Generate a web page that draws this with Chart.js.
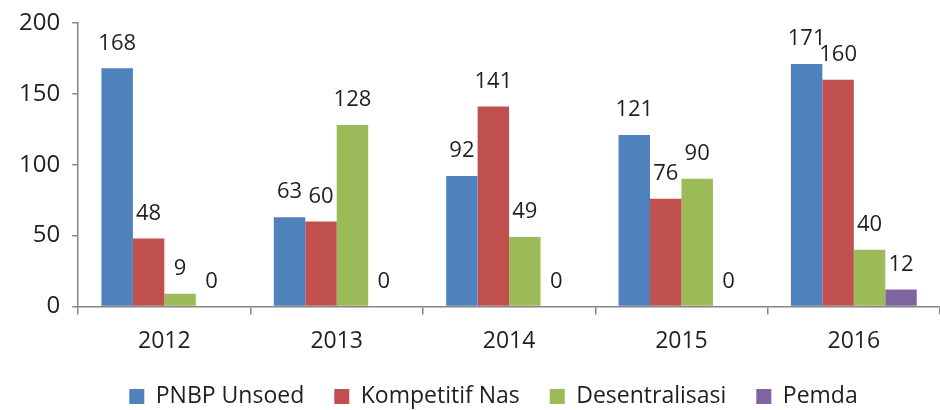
<!DOCTYPE html>
<html>
<head>
<meta charset="utf-8">
<script src="https://cdn.jsdelivr.net/npm/chart.js@4/dist/chart.umd.min.js"></script>
<style>
  html, body { margin: 0; padding: 0; background: #fff; }
  #wrap { width: 940px; height: 410px; }
</style>
</head>
<body>
<div id="wrap"><canvas id="chart"></canvas></div>
<script>
// Data
const years = ['2012', '2013', '2014', '2015', '2016'];
const pnbpUnsoed = [168, 63, 92, 121, 171];
const kompetitifNas = [48, 60, 141, 76, 160];
const desentralisasi = [9, 128, 49, 90, 40];
const pemda = [0, 0, 0, 0, 12];
const yTicks = [0, 50, 100, 150, 200];

const FONT = '"Open Sans", "Noto Sans", sans-serif';
const TEXT = '#1f1f1f';
const AXIS = '#868686';

// Simple value labels above each bar (no datalabels plugin available)
const barLabels = {
    id: 'barLabels',
    afterDatasetsDraw(chart) {
        const ctx = chart.ctx;
        ctx.save();
        ctx.font = '22px ' + FONT;
        ctx.fillStyle = TEXT;
        ctx.textAlign = 'center';
        ctx.textBaseline = 'middle';
        chart.data.datasets.forEach((ds, i) => {
            chart.getDatasetMeta(i).data.forEach((bar, j) => {
                ctx.fillText(String(ds.data[j]), bar.x, bar.y - 25);
            });
        });
        ctx.restore();
    }
};

// The legend in the original sits a little right of centre
const legendNudge = {
    id: 'legendNudge',
    afterLayout(chart) {
        if (chart.legend) chart.legend.left += 40;
    }
};

new Chart(document.getElementById('chart').getContext('2d'), {
    type: 'bar',
    data: {
        labels: years,
        datasets: [
            { label: 'PNBP Unsoed', data: pnbpUnsoed, backgroundColor: '#4F81BD' },
            { label: 'Kompetitif Nas', data: kompetitifNas, backgroundColor: '#C0504D' },
            { label: 'Desentralisasi', data: desentralisasi, backgroundColor: '#9BBB59' },
            { label: 'Pemda', data: pemda, backgroundColor: '#8064A2' }
        ]
    },
    options: {
        responsive: true,
        maintainAspectRatio: false,
        animation: false,
        layout: { padding: { top: 23, right: 0, bottom: -8, left: 7 } },
        datasets: {
            bar: { categoryPercentage: 0.73, barPercentage: 1.0 }
        },
        scales: {
            x: {
                // let the plot run a bit lower, into the empty space above the legend
                afterFit: s => { s.height -= 13; },
                grid: {
                    offset: true,
                    drawOnChartArea: false,
                    drawTicks: true,
                    tickLength: 8,
                    color: AXIS,
                    lineWidth: 1.5
                },
                border: { color: AXIS, width: 1.5 },
                ticks: { color: TEXT, font: { family: FONT, size: 23 }, padding: 13 }
            },
            y: {
                min: 0,
                max: 200,
                afterBuildTicks: axis => { axis.ticks = yTicks.map(v => ({ value: v })); },
                afterFit: s => { s.paddingTop = 0; },
                grid: {
                    drawOnChartArea: false,
                    tickLength: 6,
                    color: AXIS,
                    lineWidth: 1.5
                },
                border: { color: AXIS, width: 1.5 },
                ticks: { color: TEXT, font: { family: FONT, size: 24 }, padding: 12 }
            }
        },
        plugins: {
            legend: {
                position: 'bottom',
                labels: {
                    color: TEXT,
                    font: { family: FONT, size: 23 },
                    boxWidth: 15,
                    boxHeight: 15,
                    padding: 30
                }
            },
            tooltip: { enabled: false }
        }
    },
    plugins: [barLabels, legendNudge]
});
</script>
</body>
</html>
